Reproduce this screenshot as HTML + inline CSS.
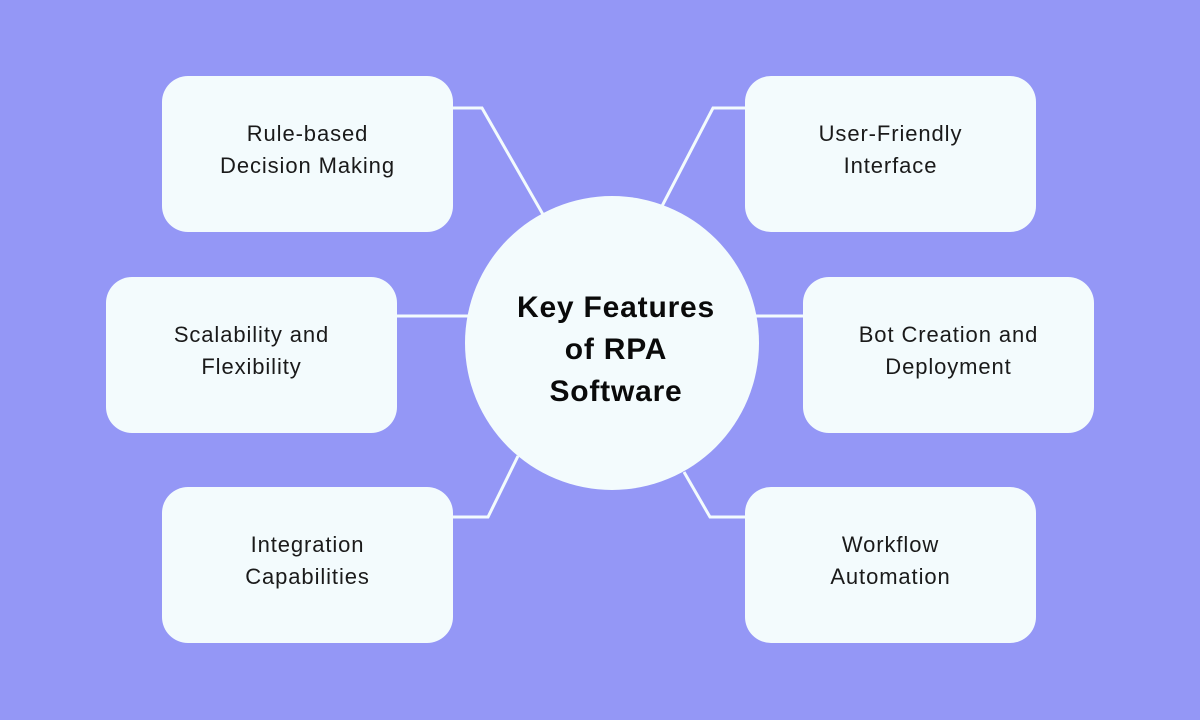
<!DOCTYPE html>
<html><head><meta charset="utf-8"><style>
body{margin:0;width:1200px;height:720px;background:#9497f6;position:relative;overflow:hidden;font-family:"Liberation Sans",sans-serif}
.b{position:absolute;width:291px;height:156px;background:#f3fbfd;border-radius:26px;display:flex;align-items:center;justify-content:center;text-align:center;font-size:22px;letter-spacing:0.9px;line-height:32px;color:#1a1a1a}
.b div{margin-top:-9px}
.c{position:absolute;left:465px;top:196px;width:294px;height:294px;border-radius:50%;background:#f3fbfd;display:flex;align-items:center;justify-content:center;text-align:center;font-weight:bold;font-size:30px;letter-spacing:0.8px;line-height:42px;color:#0a0a0a}
svg{position:absolute;left:0;top:0}
</style></head><body>
<svg width="1200" height="720"><g stroke="#f3fbfd" stroke-width="3" fill="none">
<polyline points="452,108 482,108 545,218"/>
<polyline points="745,108 713,108 660,210"/>
<line x1="397" y1="316" x2="470" y2="316"/>
<line x1="756" y1="316" x2="803" y2="316"/>
<polyline points="452,517 488,517 518,456"/>
<polyline points="745,517 710,517 684,472"/>
</g></svg>
<div class="b" style="left:162px;top:76px"><div>Rule-based<br>Decision Making</div></div>
<div class="b" style="left:745px;top:76px"><div>User-Friendly<br>Interface</div></div>
<div class="b" style="left:106px;top:277px"><div>Scalability and<br>Flexibility</div></div>
<div class="b" style="left:803px;top:277px"><div>Bot Creation and<br>Deployment</div></div>
<div class="b" style="left:162px;top:487px"><div>Integration<br>Capabilities</div></div>
<div class="b" style="left:745px;top:487px"><div>Workflow<br>Automation</div></div>
<div class="c"><div style="padding-left:8px;margin-top:14px">Key Features<br>of RPA<br>Software</div></div>
</body></html>
